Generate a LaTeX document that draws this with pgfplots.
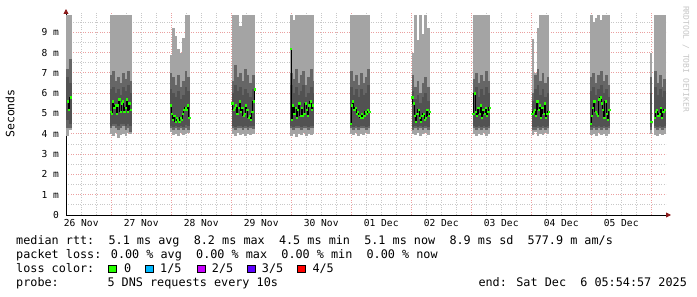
\documentclass[border=0pt]{standalone}
\usepackage{fontspec}
\setmainfont{DejaVu Sans Mono}
\setmonofont{DejaVu Sans Mono}
\usepackage{pgfplots}
\pgfplotsset{compat=1.18}
\usepackage{pgfplotstable}
\usetikzlibrary{arrows.meta}
\definecolor{smokeA}{HTML}{A4A4A4}
\definecolor{smokeB}{HTML}{666666}
\definecolor{smokeC}{HTML}{525252}
\definecolor{lossgreen}{HTML}{26FF00}
\definecolor{losscyan}{HTML}{00B8FF}
\definecolor{lossmag}{HTML}{C800FF}
\definecolor{lossviol}{HTML}{5E00FF}
\definecolor{lossred}{HTML}{FF0000}
\definecolor{gridminor}{HTML}{C8C8C8}
\definecolor{gridmajor}{HTML}{EBA0A0}
\definecolor{arrowred}{HTML}{8B1A1A}

\pgfplotstableread{
x lo hi mlo mhi dlo dhi
6.6 3.9 9.85 4.3 7.2 4.7 6.8
7.75 4.2 9.85 4.3 7.7 4.5 6.5
23.9 4.0 9.85 4.3 6.9 4.4 6.2
24.9 3.9 9.85 4.4 7.1 4.5 6.3
25.9 4.05 9.85 4.3 6.6 4.5 6.0
26.9 3.8 9.85 4.2 6.8 4.4 6.2
27.9 3.95 9.85 4.3 6.5 4.5 5.9
28.9 4.0 9.85 4.4 7.0 4.5 6.3
29.9 3.9 9.85 4.2 6.7 4.4 6.1
30.9 4.05 9.85 4.3 7.1 4.5 6.4
31.6 4.0 9.85 4.1 6.6 4.4 6.0
47.9 4.1 7.9 4.3 7.0 4.4 6.2
48.9 3.95 9.2 4.2 6.8 4.35 6.0
49.9 4.0 8.8 4.3 6.4 4.4 5.8
50.9 3.9 8.2 4.2 6.9 4.35 6.1
51.9 4.05 8.0 4.3 6.3 4.4 5.7
52.9 3.95 8.7 4.2 6.6 4.35 5.9
53.9 4.0 9.85 4.3 7.1 4.45 6.3
54.9 4.05 9.85 4.2 6.8 4.4 6.1
72.7 4.0 9.85 4.3 6.6 4.4 6.0
73.7 3.9 9.85 4.2 7.4 4.35 6.4
74.7 4.05 9.85 4.3 6.8 4.4 6.1
75.7 3.95 9.3 4.3 7.0 4.4 6.3
76.7 4.0 9.85 4.2 6.6 4.35 5.9
77.7 3.9 9.85 4.3 7.2 4.4 6.2
78.7 4.0 9.85 4.2 6.9 4.35 6.0
79.7 3.95 9.85 4.3 6.5 4.4 5.8
80.9 4.0 9.85 4.25 6.9 4.4 6.2
96.0 3.9 9.85 4.3 7.0 4.4 6.4
97.0 4.0 9.6 4.2 6.7 4.35 6.0
98.0 3.85 9.85 4.3 7.2 4.4 6.3
99.0 4.0 9.85 4.3 6.5 4.4 5.9
100.0 3.95 9.85 4.2 6.9 4.35 6.1
101.0 4.05 9.85 4.3 7.1 4.4 6.4
102.0 3.9 9.85 4.3 6.4 4.4 5.8
103.0 4.0 9.85 4.2 6.8 4.35 6.0
104.0 3.95 9.85 4.3 7.2 4.4 6.3
104.6 4.0 9.85 4.3 6.6 4.4 6.0
120.0 4.0 9.85 4.3 7.1 4.4 6.3
121.0 3.95 9.85 4.2 6.6 4.35 5.9
122.0 4.05 9.85 4.3 6.9 4.4 6.2
123.0 3.9 9.85 4.2 6.4 4.35 5.8
124.0 4.0 9.85 4.3 7.0 4.4 6.2
125.0 3.95 9.85 4.3 6.5 4.4 5.9
126.0 4.05 9.85 4.2 6.8 4.35 6.0
127.0 4.0 9.85 4.3 7.2 4.4 6.4
144.7 4.0 8.0 4.2 6.9 4.35 6.1
145.7 3.95 9.85 4.3 6.3 4.4 5.7
146.7 4.05 8.6 4.2 6.6 4.35 5.9
147.7 3.9 9.85 4.3 6.0 4.4 5.5
148.7 4.0 8.9 4.2 6.5 4.35 5.8
149.7 4.05 9.85 4.3 6.8 4.4 6.0
150.9 3.95 9.2 4.2 6.3 4.35 5.6
169.1 4.0 9.85 4.3 6.7 4.4 6.0
170.1 3.9 9.85 4.2 7.0 4.35 6.3
171.1 4.0 9.85 4.3 6.5 4.4 5.8
172.1 3.95 9.85 4.2 6.9 4.35 6.2
173.1 4.05 9.85 4.3 6.6 4.4 5.9
174.1 3.9 9.85 4.2 7.1 4.35 6.3
175.1 4.0 9.85 4.3 6.6 4.4 6.0
192.7 3.95 8.65 4.2 6.0 4.35 5.6
193.7 4.1 7.0 4.2 6.9 4.35 6.2
194.7 3.9 9.2 4.3 7.2 4.4 6.4
195.7 4.0 9.85 4.2 6.6 4.35 5.9
196.7 3.95 9.85 4.3 7.0 4.4 6.2
197.7 4.05 9.85 4.2 6.5 4.35 5.8
198.7 4.0 9.85 4.3 6.8 4.4 6.0
216.0 3.95 9.85 4.2 6.8 4.35 6.1
217.0 4.0 9.5 4.3 7.0 4.4 6.3
218.0 3.9 9.7 4.2 6.5 4.35 5.9
219.0 4.05 9.85 4.3 6.9 4.4 6.2
220.0 3.95 9.6 4.2 7.1 4.35 6.4
221.0 4.0 9.85 4.3 6.6 4.4 6.0
222.0 3.9 9.85 4.2 6.9 4.35 6.2
223.0 4.0 9.85 4.3 6.4 4.4 5.8
239.95 4.0 8.0 4.2 6.8 4.35 6.0
241.6 3.95 9.85 4.3 7.1 4.4 6.3
242.6 3.9 9.85 4.2 6.5 4.35 5.9
243.6 4.0 9.85 4.3 6.9 4.4 6.2
244.6 3.95 9.85 4.2 6.3 4.35 5.8
245.4 4.0 9.85 4.3 6.7 4.4 6.1
}\smoke

\pgfplotstableread{
x m
6.5 5.6
7.0 5.2
7.7 5.8
nan nan
23.7 5.1
24.2 5.0
24.7 5.6
25.2 5.3
25.7 5.4
26.2 5.0
26.7 5.4
27.2 5.7
27.7 5.1
28.2 5.5
28.7 5.6
29.2 5.1
29.7 5.3
30.2 5.7
30.7 5.1
31.2 5.5
31.7 5.2
nan nan
47.7 5.4
48.2 5.0
48.7 4.7
49.2 4.9
49.7 4.6
50.2 4.8
50.7 4.7
51.2 4.6
51.7 4.8
52.2 4.7
52.7 5.0
53.2 5.2
53.7 5.3
54.2 5.2
54.7 5.4
55.2 4.8
nan nan
72.4 5.5
72.9 5.2
73.4 5.3
73.9 5.4
74.4 5.0
74.9 5.3
75.4 5.6
75.9 5.1
76.4 5.3
76.9 4.9
77.4 5.0
77.9 5.4
78.4 5.2
78.9 4.8
79.4 4.9
79.9 4.7
80.4 5.1
80.9 5.6
81.4 6.2
nan nan
95.7 8.2
96.2 4.7
96.7 5.4
97.2 5.0
97.7 5.3
98.2 4.8
98.7 5.2
99.2 5.5
99.7 4.9
100.2 5.3
100.7 4.9
101.2 5.0
101.7 5.5
102.2 5.2
102.7 4.9
103.2 5.4
103.7 5.6
104.2 5.2
104.7 5.4
nan nan
119.7 4.5
120.2 5.4
120.7 5.6
121.2 5.2
121.7 5.3
122.2 5.0
122.7 5.1
123.2 4.9
123.7 4.8
124.2 5.0
124.7 4.8
125.2 4.9
125.7 5.1
126.2 5.0
126.7 5.2
127.2 5.1
nan nan
144.4 5.8
144.9 5.5
145.4 4.9
145.9 4.6
146.4 5.0
146.9 5.2
147.4 4.8
147.9 4.6
148.4 4.9
148.9 5.0
149.4 4.7
149.9 4.8
150.4 5.2
150.9 4.9
151.4 5.1
nan nan
168.8 5.0
169.3 6.0
169.8 5.1
170.3 4.9
170.8 5.3
171.3 5.0
171.8 5.4
172.3 4.8
172.8 5.2
173.3 5.0
173.8 5.3
174.3 4.9
174.8 5.1
175.3 5.3
nan nan
192.4 5.0
192.9 5.1
193.4 5.2
193.9 4.9
194.4 5.6
194.9 5.2
195.4 5.4
195.9 4.8
196.4 5.3
196.9 5.0
197.4 5.5
197.9 4.8
198.4 5.0
198.9 5.1
nan nan
215.7 4.5
216.2 4.9
216.7 5.3
217.2 5.6
217.7 5.1
218.2 5.0
218.7 4.9
219.2 5.7
219.7 5.8
220.2 5.5
220.7 5.2
221.2 4.8
221.7 5.6
222.2 5.0
222.7 4.7
223.2 5.2
nan nan
240.0 4.6
nan nan
241.3 4.8
241.8 5.1
242.3 5.2
242.8 4.9
243.3 5.0
243.8 5.3
244.3 4.8
244.8 5.1
245.3 5.2
}\median

\begin{document}
\begin{tikzpicture}[x=1pt,y=1pt]
\useasboundingbox (0,0) rectangle (697,297);
\begin{axis}[
  at={(66pt,82pt)}, anchor=south west,
  scale only axis, width=600pt, height=203pt,
  xmin=5.92, xmax=245.92, ymin=0, ymax=10,
  axis lines=left,
  axis line style={black, line width=0.8pt},
  x axis line style={-{Triangle[length=5pt,width=5pt,color=arrowred,fill=arrowred]}, shorten >=-5pt},
  y axis line style={-{Triangle[length=5pt,width=5pt,color=arrowred,fill=arrowred]}, shorten >=-3pt},
  major tick length=0pt, minor tick length=0pt,
  xtick={12,36,...,228},
  xticklabels={26 Nov,27 Nov,28 Nov,29 Nov,30 Nov,01 Dec,02 Dec,03 Dec,04 Dec,05 Dec},
  minor xtick={6,12,18,30,36,42,54,60,66,78,84,90,102,108,114,126,132,138,150,156,162,174,180,186,198,204,210,222,228,234},
  xmajorgrids=false, xminorgrids=true,
  extra x ticks={24,48,...,240},
  extra x tick labels={},
  extra x tick style={grid=major},
  ytick={0,1,...,9},
  yticklabels={0,1 m,2 m,3 m,4 m,5 m,6 m,7 m,8 m,9 m},
  minor ytick={0.5,1.5,...,9.5},
  ymajorgrids=true, yminorgrids=true,
  major grid style={gridmajor, line width=0.8pt, dash pattern=on 0.8pt off 1.6pt},
  minor grid style={gridminor, line width=0.8pt, dash pattern=on 0.8pt off 1.6pt},
  tick label style={font=\fontsize{9.6}{11}\selectfont},
  yticklabel style={xshift=-3.5pt},
  xticklabel style={yshift=-0.5pt},
  ylabel={Seconds},
  ylabel style={at={(axis description cs:-0.093,0.5)}, anchor=center, font=\fontsize{11.5}{13}\selectfont},
  clip=true,
]
\addplot[draw=none, mark=none, forget plot,
  error bars/.cd, y dir=plus, y explicit, error mark=none,
  error bar style={draw=smokeA, line width=2.6pt, solid}]
  table[x=x, y=lo, y error plus expr=\thisrow{hi}-\thisrow{lo}] {\smoke};
\addplot[draw=none, mark=none, forget plot,
  error bars/.cd, y dir=plus, y explicit, error mark=none,
  error bar style={draw=smokeB, line width=2.6pt, solid}]
  table[x=x, y=mlo, y error plus expr=\thisrow{mhi}-\thisrow{mlo}] {\smoke};
\addplot[draw=none, mark=none, forget plot,
  error bars/.cd, y dir=plus, y explicit, error mark=none,
  error bar style={draw=smokeC, line width=2.6pt, solid}]
  table[x=x, y=dlo, y error plus expr=\thisrow{dhi}-\thisrow{dlo}] {\smoke};
\addplot[black, line width=1pt, const plot mark mid, unbounded coords=jump, mark=none, forget plot]
  table[x=x, y=m] {\median};
\addplot[only marks, mark=square*, mark size=0.7pt, color=lossgreen, forget plot]
  table[x=x, y=m] {\median};
\end{axis}
\begin{scope}[every node/.style={inner sep=0pt, anchor=base west, font=\fontsize{11.8}{14}\selectfont}]
\node at (16,52.5) {median rtt:~~5.1 ms avg~~8.2 ms max~~4.5 ms min~~5.1 ms now~~8.9 ms sd~~577.9 m am/s};
\node at (16,38.5) {packet loss: 0.00 \% avg~~0.00 \% max~~0.00 \% min~~0.00 \% now};
\node at (16,24.3) {loss color:};
\node at (124,24.3) {0};
\node at (160,24.3) {1/5};
\node at (211.7,24.3) {2/5};
\node at (261.7,24.3) {3/5};
\node at (312.3,24.3) {4/5};
\node at (16,10.2) {probe:};
\node at (107.3,10.2) {5 DNS requests every 10s};
\node at (478.3,10.2) {end: Sat Dec~~6 05:54:57 2025};
\end{scope}
\draw[black, line width=0.6pt, fill=lossgreen] (108.3,24.5) rectangle (115.8,32);
\draw[black, line width=0.6pt, fill=losscyan] (145.7,24.5) rectangle (153.2,32);
\draw[black, line width=0.6pt, fill=lossmag] (197.3,24.5) rectangle (204.8,32);
\draw[black, line width=0.6pt, fill=lossviol] (247.3,24.5) rectangle (254.8,32);
\draw[black, line width=0.6pt, fill=lossred] (297.7,24.5) rectangle (305.2,32);
\node[rotate=-90, anchor=center, inner sep=0pt, text=gray!45, font=\fontsize{8}{9}\selectfont] at (686,238) {RRDTOOL / TOBI OETIKER};
\end{tikzpicture}
\end{document}
